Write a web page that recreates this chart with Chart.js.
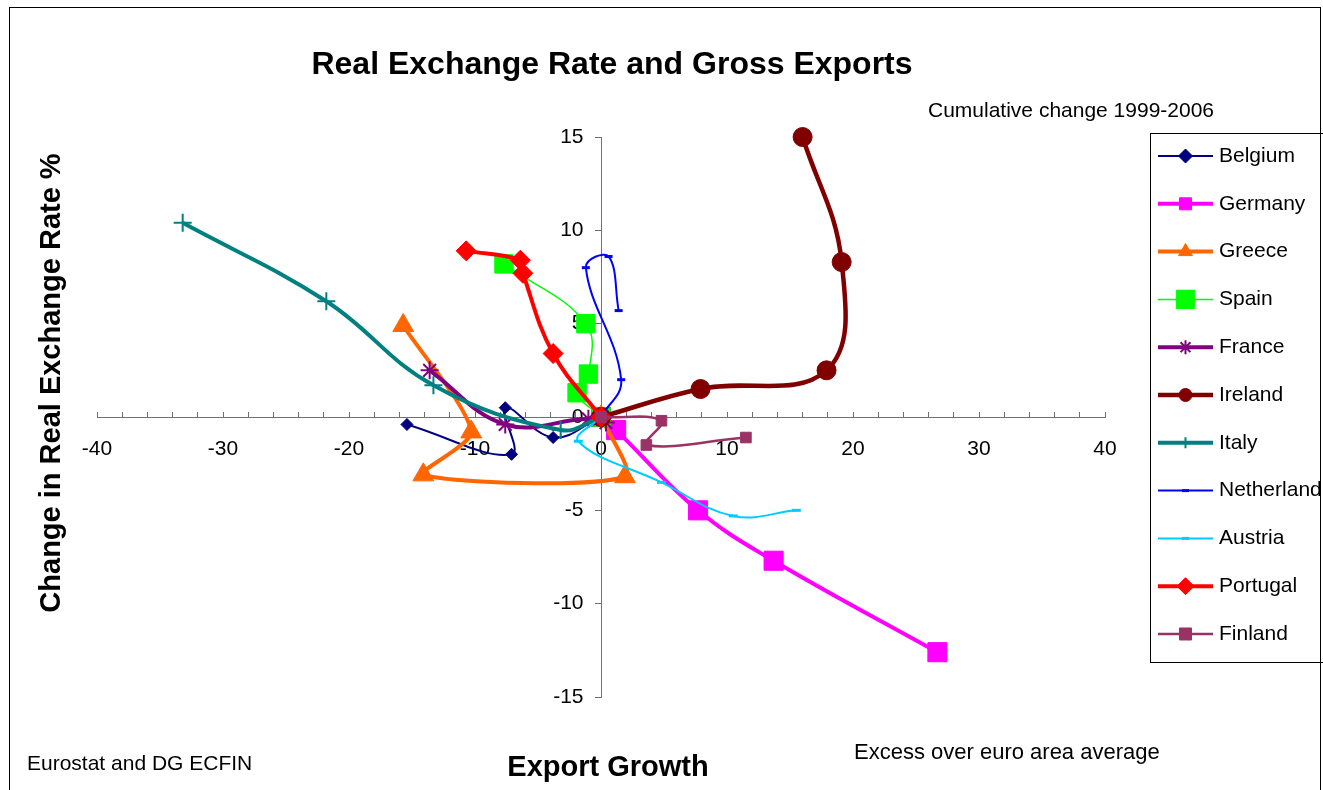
<!DOCTYPE html>
<html>
<head>
<meta charset="utf-8">
<title>Real Exchange Rate and Gross Exports</title>
<style>
  html,body{margin:0;padding:0;background:#fff;}
  .container{width:1323px;height:790px;position:relative;}
</style>
</head>
<body>
<div class="container">
  <canvas id="chart-rer" width="1323" height="790"></canvas>
</div>
<script src="https://cdn.jsdelivr.net/npm/chart.js@4.4.0/dist/chart.umd.min.js"></script>
<script>
// cumulative change 1999-2006, excess over euro area average
// x = export growth, y = change in real exchange rate %
const countries = ['Belgium', 'Germany', 'Greece', 'Spain', 'France', 'Ireland', 'Italy', 'Netherland', 'Austria', 'Portugal', 'Finland'];

const belgiumX = [0, -3.8, -7.6, -7.1, -15.4];
const belgiumY = [0, -1.1, 0.5, -2.0, -0.4];
const germanyX = [0, 1.2, 7.7, 13.7, 26.7];
const germanyY = [0, -0.7, -5.0, -7.7, -12.6];
const greeceX = [0, 1.9, -14.1, -10.3, -15.7];
const greeceY = [0, -3.2, -3.1, -0.8, 4.9];
const spainX = [0, -1.9, -1.0, -1.2, -7.7];
const spainY = [0, 1.3, 2.3, 5.0, 8.2];
const franceX = [0, 0.4, -1.0, -7.6, -13.6];
const franceY = [0, -0.3, -0.1, -0.4, 2.5];
const irelandX = [0, 7.9, 17.9, 19.1, 16.0];
const irelandY = [0, 1.5, 2.5, 8.3, 15.0];
const italyX = [0, -3.2, -13.3, -21.8, -33.2];
const italyY = [0, -0.7, 1.7, 6.2, 10.4];
const netherlandX = [0, 1.6, -1.2, 0.6, 1.4];
const netherlandY = [0, 2.0, 8.0, 8.6, 5.7];
const austriaX = [0, -1.8, 4.8, 10.5, 15.5];
const austriaY = [0, -1.3, -3.5, -5.3, -5.0];
const portugalX = [0, -3.8, -6.2, -6.4, -10.7];
const portugalY = [0, 3.4, 7.7, 8.4, 8.9];
const finlandX = [0, 4.8, 3.6, 11.5];
const finlandY = [0, -0.2, -1.5, -1.1];

const xTicksMin = -40, xTicksMax = 40, xStep = 2, xLabelEvery = 10;
const yTicksMin = -15, yTicksMax = 15, yStep = 5;

const seriesX = [belgiumX, germanyX, greeceX, spainX, franceX, irelandX, italyX, netherlandX, austriaX, portugalX, finlandX];
const seriesY = [belgiumY, germanyY, greeceY, spainY, franceY, irelandY, italyY, netherlandY, austriaY, portugalY, finlandY];

// look of each series (r = marker in plot, lr = marker in legend)
const styles = [
  {color: '#000080', width: 2,   point: 'rectRot',  r: 6,    lr: 7,   bw: 1, t: 0.4},
  {color: '#FF00FF', width: 4,   point: 'rect',     r: 13.5, lr: 8.5, bw: 1, t: 0.4},
  {color: '#FF6600', width: 4,   point: 'triangle', r: 12,   lr: 8,   bw: 1, t: 0.25},
  {color: '#00FF00', width: 1.5, point: 'rect',     r: 13,   lr: 13,  bw: 1, t: 0.4},
  {color: '#800080', width: 4,   point: 'star',     r: 9,    lr: 7,   bw: 2, t: 0.4},
  {color: '#800000', width: 4.5, point: 'circle',   r: 9.5,  lr: 6.5, bw: 1, t: 0.4},
  {color: '#008080', width: 4,   point: 'cross',    r: 9,    lr: 5.5, bw: 2, t: 0.4},
  {color: '#0000FF', width: 2,   point: 'line',     r: 4,    lr: 3.5, bw: 3, t: 0.4},
  {color: '#00CCFF', width: 2,   point: 'line',     r: 4.5,  lr: 3.5, bw: 3, t: 0.4},
  {color: '#FF0000', width: 4,   point: 'rectRot',  r: 10,   lr: 8.5, bw: 1, t: 0.4},
  {color: '#993366', width: 2.5, point: 'rect',     r: 7.5,  lr: 8.5, bw: 1, t: 0.4}
];

const FONT = "'Liberation Sans', Arial, sans-serif";

let datasets = [];
for (let i = 0; i < countries.length; i++) {
  let pts = [];
  for (let j = 0; j < seriesX[i].length; j++) {
    pts.push({x: seriesX[i][j], y: seriesY[i][j]});
  }
  let s = styles[i];
  datasets.push({
    label: countries[i],
    data: pts,
    showLine: true,
    tension: s.t,
    clip: false,
    borderColor: s.color,
    borderWidth: s.width,
    pointStyle: s.point,
    pointRadius: s.r,
    pointHoverRadius: s.r,
    pointBorderWidth: s.bw,
    pointBackgroundColor: s.color,
    pointBorderColor: s.color,
    order: countries.length - i   // Finland drawn last, on top
  });
}

// texts, legend and frames drawn around the plot
const decorations = {
  id: 'decorations',
  beforeDraw(chart) {
    const ctx = chart.ctx;
    ctx.save();
    ctx.fillStyle = '#fff';
    ctx.fillRect(0, 0, chart.width, chart.height);
    ctx.restore();
  },
  afterDraw(chart) {
    const ctx = chart.ctx;
    ctx.save();
    // outer frame
    ctx.strokeStyle = '#000';
    ctx.lineWidth = 1;
    ctx.strokeRect(9.5, 7.5, 1311, 800);

    ctx.fillStyle = '#000';
    ctx.textBaseline = 'middle';
    ctx.font = 'bold 32px ' + FONT;
    ctx.textAlign = 'center';
    ctx.fillText('Real Exchange Rate and Gross Exports', 612, 65);

    ctx.font = '21px ' + FONT;
    ctx.textAlign = 'left';
    ctx.fillText('Cumulative change 1999-2006', 928, 111);
    ctx.fillText('Eurostat and DG ECFIN', 27, 764);
    ctx.font = '22px ' + FONT;
    ctx.fillText('Excess over euro area average', 854, 753);

    ctx.font = 'bold 29px ' + FONT;
    ctx.textAlign = 'center';
    ctx.fillText('Export Growth', 608, 768);
    ctx.save();
    ctx.translate(52, 383);
    ctx.rotate(-Math.PI / 2);
    ctx.fillText('Change in Real Exchange Rate %', 0, 0);
    ctx.restore();

    // legend
    ctx.strokeStyle = '#000';
    ctx.lineWidth = 1;
    ctx.strokeRect(1150.5, 133.5, 200, 529);
    ctx.font = '21px ' + FONT;
    ctx.textAlign = 'left';
    for (let i = 0; i < countries.length; i++) {
      let s = styles[i];
      let y = 156 + i * 47.8;
      ctx.beginPath();
      ctx.strokeStyle = s.color;
      ctx.lineWidth = s.width;
      ctx.moveTo(1158, y);
      ctx.lineTo(1213, y);
      ctx.stroke();
      ctx.fillStyle = s.color;
      ctx.strokeStyle = s.color;
      ctx.lineWidth = s.bw;
      Chart.helpers.drawPoint(ctx, {pointStyle: s.point, radius: s.lr, rotation: 0, borderWidth: s.bw}, 1185.5, y);
      ctx.fillStyle = '#000';
      ctx.fillText(countries[i], 1219, y);
    }
    ctx.restore();
  }
};

new Chart(document.getElementById('chart-rer'), {
  type: 'scatter',
  data: {datasets: datasets},
  options: {
    responsive: false,
    devicePixelRatio: 1,
    animation: false,
    events: [],
    layout: {padding: {left: 97, top: 137, right: 218, bottom: 93}},
    plugins: {
      legend: {display: false},
      title: {display: false},
      tooltip: {enabled: false}
    },
    scales: {
      x: {
        type: 'linear',
        min: xTicksMin,
        max: xTicksMax,
        position: {y: 0},
        z: 1,
        grid: {drawOnChartArea: false, drawTicks: true, tickLength: -6, color: '#707070'},
        border: {color: '#707070', width: 1},
        ticks: {
          stepSize: xStep,
          autoSkip: false,
          maxRotation: 0,
          padding: 26,
          color: '#000',
          font: {family: FONT, size: 21},
          callback: function(v) { return v % xLabelEvery === 0 ? v : ''; }
        }
      },
      y: {
        type: 'linear',
        min: yTicksMin,
        max: yTicksMax,
        position: {x: 0},
        z: 1,
        grid: {drawOnChartArea: false, drawTicks: true, tickLength: 6, color: '#707070'},
        border: {color: '#707070', width: 1},
        ticks: {
          stepSize: yStep,
          color: '#000',
          font: {family: FONT, size: 21},
          // labels sit right-aligned on the axis when it is placed at x = 0; pad them off it
          callback: function(v) { return v + '\u2002\u2005\u200A'; }
        }
      }
    }
  },
  plugins: [decorations]
});
</script>
</body>
</html>
